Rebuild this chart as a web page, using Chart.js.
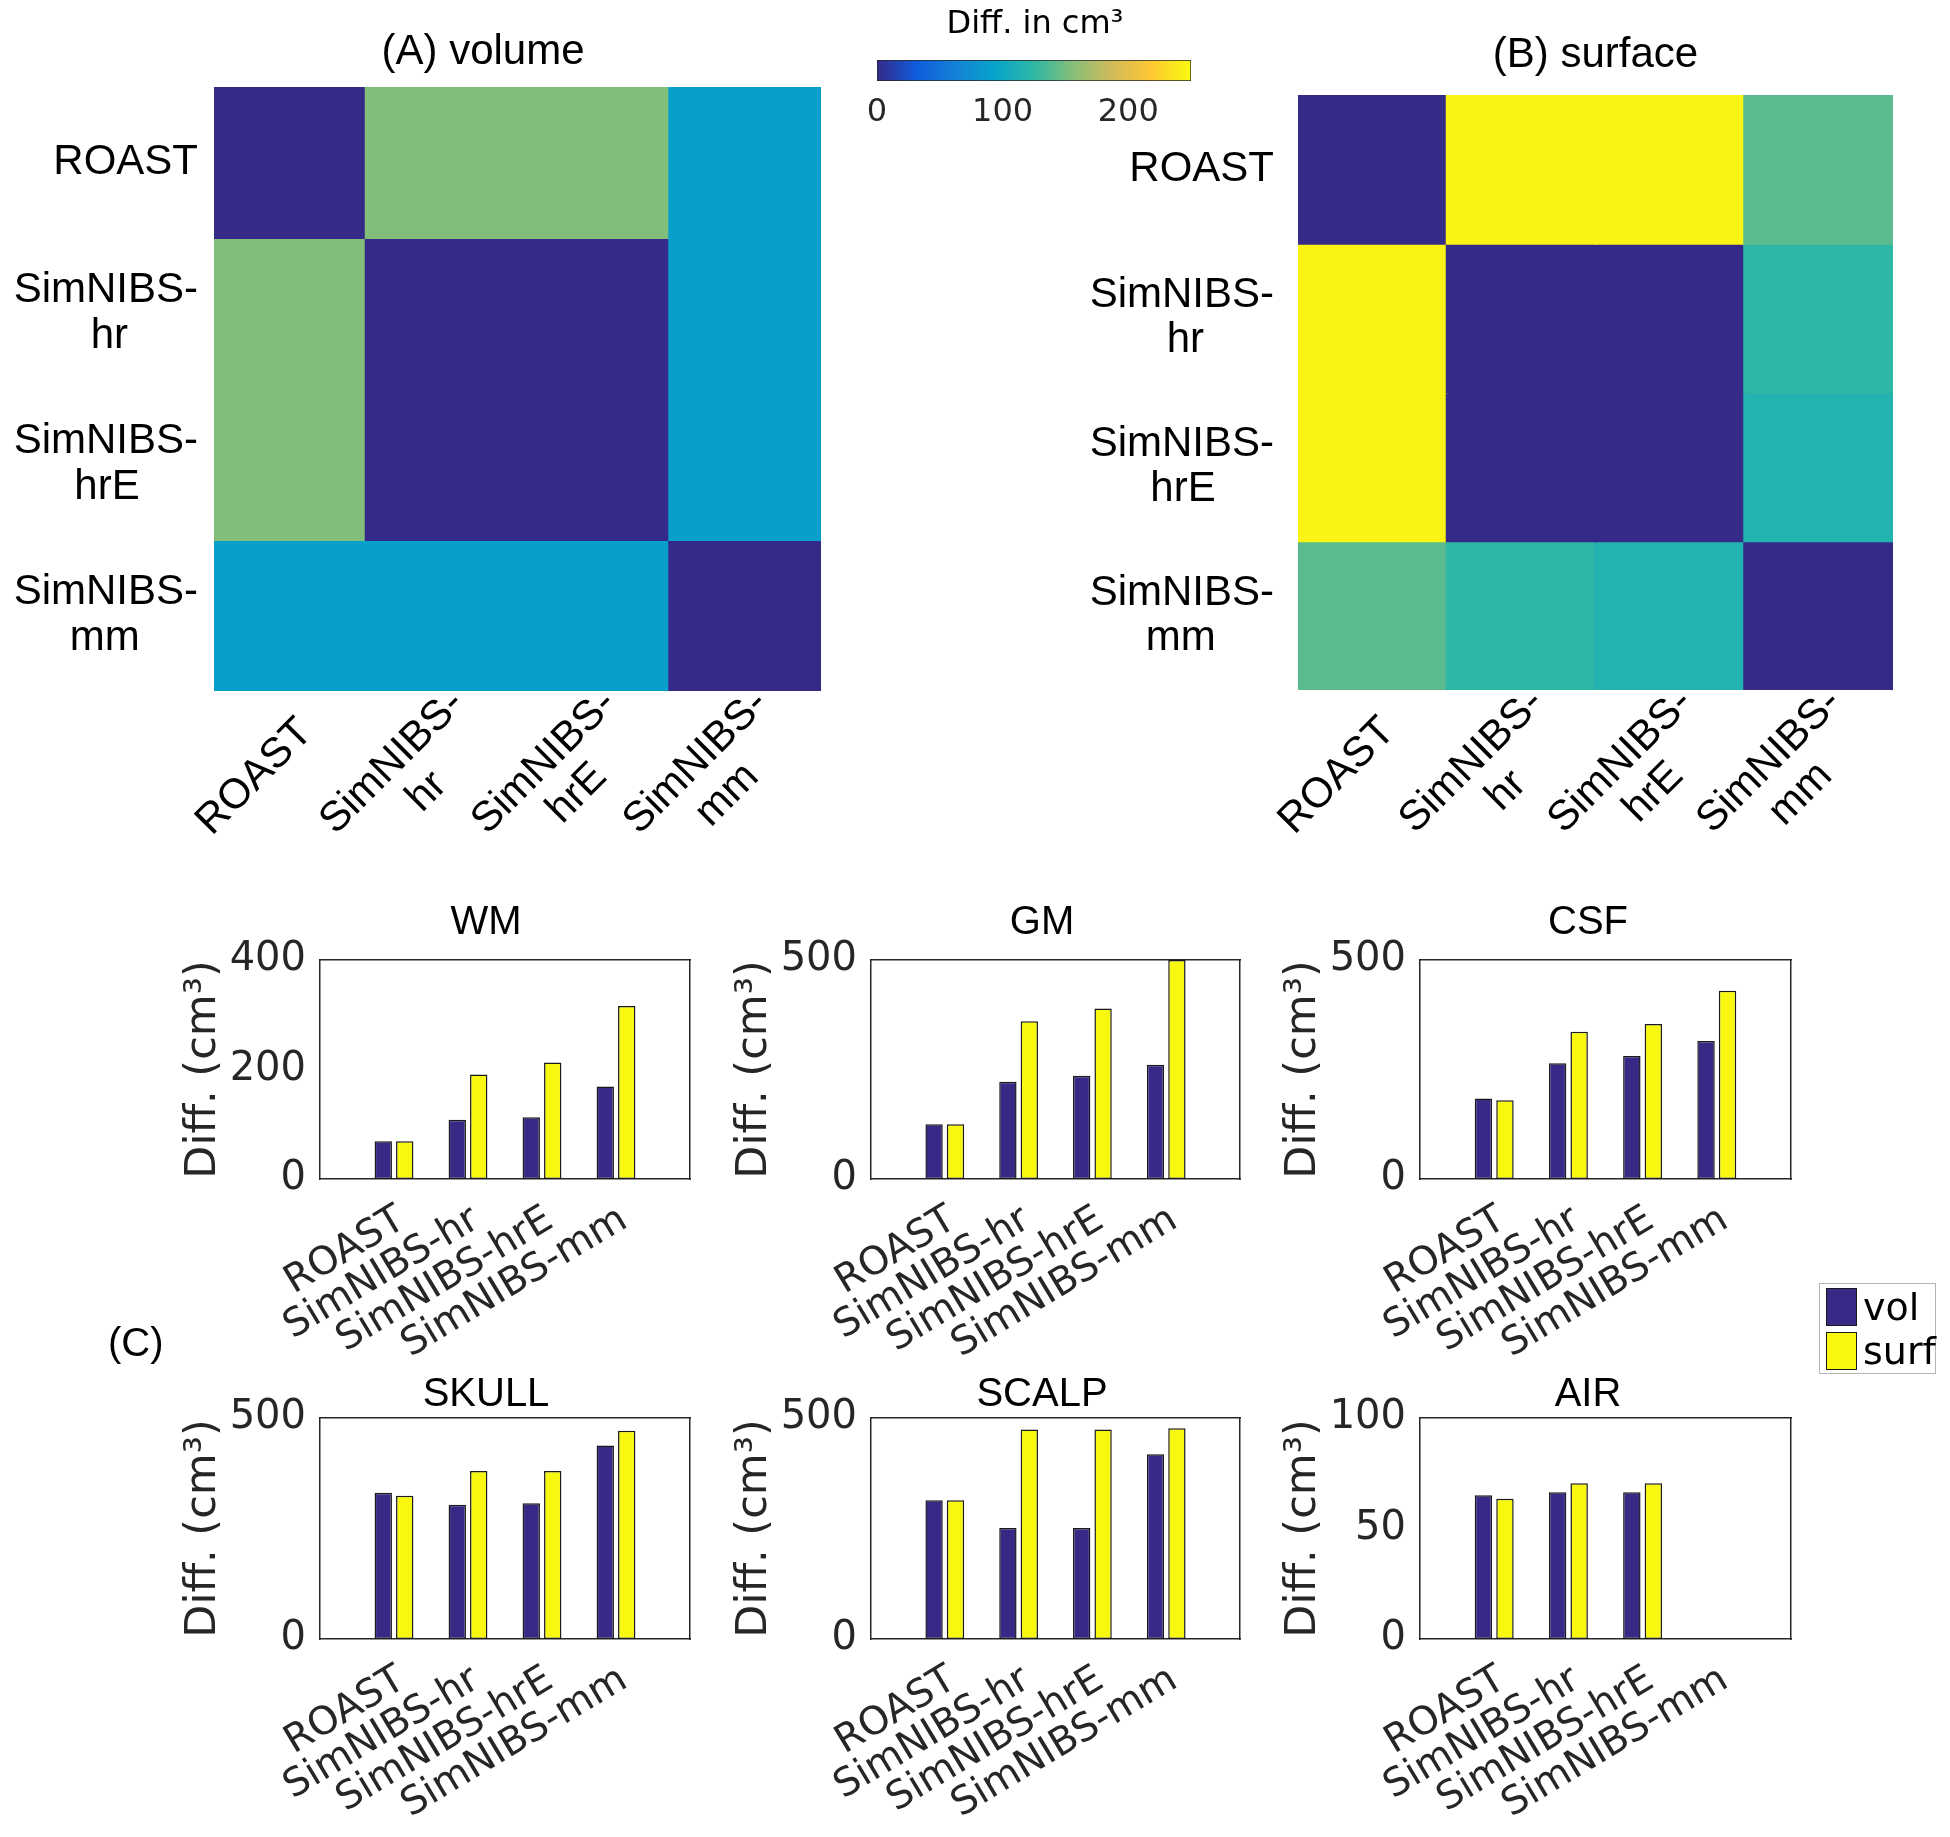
<!DOCTYPE html>
<html>
<head>
<meta charset="utf-8">
<script src="https://cdn.jsdelivr.net/npm/chart.js@4.4.1/dist/chart.umd.min.js"></script>
<style>
	html, body { margin: 0; padding: 0; background: #fff; }
	body { width: 1950px; height: 1837px; position: relative; overflow: hidden; }
	.box { position: absolute; }
	.box canvas { display: block; }
	#legend {
		position: absolute; left: 1819px; top: 1283px; width: 115px; height: 89px;
		border: 1px solid #b4b4b4; background: #fff;
		font: 38px "DejaVu Sans"; color: #000;
	}
	#legend .item { position: absolute; left: 6px; height: 40px; display: flex; align-items: center; }
	#legend .patch { width: 29px; height: 36px; border: 1.5px solid #1a1a1a; margin-right: 6px; }
	#panelC { position: absolute; left: 108px; top: 1320px; font: 40px "Liberation Sans"; color: #000; }
</style>
</head>
<body>
<div class="box" style="left:0px;top:0px;width:966px;height:860px"><canvas id="heatA"></canvas></div>
<div class="box" style="left:1060px;top:0px;width:890px;height:860px"><canvas id="heatB"></canvas></div>
<div class="box" style="left:800px;top:0px;width:470px;height:131px"><canvas id="cbar"></canvas></div>
<div class="box" style="left:150px;top:870px;width:672px;height:490px"><canvas id="wm"></canvas></div>
<div class="box" style="left:701px;top:870px;width:682px;height:490px"><canvas id="gm"></canvas></div>
<div class="box" style="left:1250px;top:870px;width:676px;height:490px"><canvas id="csf"></canvas></div>
<div class="box" style="left:150px;top:1340px;width:672px;height:497px"><canvas id="skull"></canvas></div>
<div class="box" style="left:701px;top:1340px;width:682px;height:497px"><canvas id="scalp"></canvas></div>
<div class="box" style="left:1250px;top:1340px;width:676px;height:497px"><canvas id="air"></canvas></div>
<div id="panelC">(C)</div>
<div id="legend"></div>
<script>
// pipelines compared in every panel
const methods = ['ROAST', 'SimNIBS-hr', 'SimNIBS-hrE', 'SimNIBS-mm'];
const methodLines = [['ROAST'], ['SimNIBS-', 'hr'], ['SimNIBS-', 'hrE'], ['SimNIBS-', 'mm']];

// (A) / (B) pairwise differences, cm^3
const volumeDiff = [
	[0, 154, 154, 90],
	[154, 0, 0, 90],
	[154, 0, 0, 90],
	[90, 90, 90, 0]
];
const surfaceDiff = [
	[0, 245, 245, 140],
	[245, 0, 0, 125],
	[245, 0, 0, 116],
	[140, 125, 116, 0]
];
const colorRange = [0, 250];
const colorTicks = [0, 100, 200];

// (C) per tissue differences, cm^3
const wmVol = [69, 108, 113, 169];
const wmSurf = [69, 191, 213, 316];
const gmVol = [125, 222, 236, 261];
const gmSurf = [125, 360, 389, 500];
const csfVol = [184, 264, 281, 315];
const csfSurf = [180, 336, 354, 430];
const skullVol = [331, 304, 307, 438];
const skullSurf = [324, 380, 380, 471];
const scalpVol = [314, 251, 251, 418];
const scalpSurf = [314, 474, 474, 477];
const airVol = [65, 66.4, 66.4, null];
const airSurf = [63.5, 70.5, 70.5, null];
const wmTicks = [0, 200, 400];
const bigTicks = [0, 500];
const airTicks = [0, 50, 100];

const volColor = '#372a86';
const surfColor = '#f7f70f';
const edgeColor = '#1a1a1a';
const axisColor = '#262626';
const parulaStops = ['#352a87', '#0f5cdd', '#1481d6', '#06a4ca', '#2eb7a4', '#87bf77', '#d1bb59', '#fec832', '#f9fb0e'];

Chart.defaults.font.family = 'Liberation Sans';
Chart.defaults.color = '#000';
Chart.defaults.animation = false;
Chart.defaults.plugins.legend.display = false;
Chart.defaults.plugins.tooltip.enabled = false;

function hexRgb(h) {
	return [1, 3, 5].map(i => parseInt(h.slice(i, i + 2), 16));
}

function parula(v) {
	let t = (v - colorRange[0]) / (colorRange[1] - colorRange[0]);
	t = Math.min(1, Math.max(0, t)) * (parulaStops.length - 1);
	const i = Math.min(Math.floor(t), parulaStops.length - 2);
	const f = t - i;
	const a = hexRgb(parulaStops[i]), b = hexRgb(parulaStops[i + 1]);
	const c = a.map((x, k) => Math.round(x + (b[k] - x) * f));
	return `rgb(${c[0]},${c[1]},${c[2]})`;
}

// MATLAB centres the short line under the long one; canvas labels are right aligned,
// so pad the short line with trailing spaces
const measureCtx = document.createElement('canvas').getContext('2d');
function centeredLines(lines, font) {
	measureCtx.font = font;
	const widths = lines.map(l => measureCtx.measureText(l).width);
	const widest = Math.max(...widths);
	const space = measureCtx.measureText(' ').width;
	return lines.map((l, i) => l + ' '.repeat(Math.round((widest - widths[i]) / 2 / space)));
}

function spacer(width) {
	return {
		position: 'right', display: true,
		grid: { display: false }, ticks: { display: false }, border: { display: false },
		afterFit: s => { s.width = width; }
	};
}

function heatmap(id, values, title, o) {
	const labelFont = { family: 'Liberation Sans', size: 42, lineHeight: 1.08 };
	const fontStr = '42px "Liberation Sans"';
	return new Chart(document.getElementById(id), {
		type: 'bar',
		data: {
			labels: methods,
			datasets: methods.map((name, r) => ({
				label: name,
				data: methods.map(() => [r, r + 1]),
				backgroundColor: values[r].map(parula),
				borderWidth: 0,
				inflateAmount: 1, // overlap neighbours so no light seams show
				grouped: false,
				barPercentage: 1,
				categoryPercentage: 1
			}))
		},
		options: {
			responsive: true,
			maintainAspectRatio: false,
			events: [],
			plugins: {
				title: {
					display: true, text: title, fullSize: o.titleFull,
					font: { size: 42, weight: 'normal', lineHeight: 1 },
					padding: { top: o.titleTop, bottom: o.titleBottom }
				}
			},
			scales: {
				x: {
					grid: { display: false, drawTicks: false }, border: { display: false },
					ticks: {
						autoSkip: false, minRotation: 45, maxRotation: 45,
						padding: -10, labelOffset: 16, color: '#000',
						// single line labels sit lower, like a centred two line block
						font: c => ({ ...labelFont, lineHeight: methodLines[c.index].length === 1 ? 3.03 : 1.08 }),
						callback: (v, i) => centeredLines(methodLines[i], fontStr)
					},
					afterFit: s => { s.height = o.xH; }
				},
				y: {
					type: 'linear', min: 0, max: methods.length, reverse: true,
					afterBuildTicks: s => { s.ticks = methods.map((_, i) => ({ value: i + 0.5 })); },
					grid: { display: false, drawTicks: false }, border: { display: false },
					ticks: {
						crossAlign: 'near', padding: o.yPad, font: labelFont, color: '#000',
						callback: (v, i) => centeredLines(methodLines[i], fontStr)
					},
					afterFit: s => { s.width = o.yW; }
				},
				y2: spacer(o.rightW)
			}
		}
	});
}

heatmap('heatA', volumeDiff, '(A) volume',
	{ titleFull: true, titleTop: 31, titleBottom: 14, xH: 169, yW: 214, rightW: 145, yPad: 16 });
heatmap('heatB', surfaceDiff, '(B) surface',
	{ titleFull: false, titleTop: 34, titleBottom: 19, xH: 170, yW: 238, rightW: 57, yPad: 24 });

// colour bar
new Chart(document.getElementById('cbar'), {
	type: 'bar',
	data: {
		labels: [''],
		datasets: [{
			data: [colorRange],
			backgroundColor: c => {
				const { ctx, chartArea } = c.chart;
				if (!chartArea) return null;
				const g = ctx.createLinearGradient(chartArea.left, 0, chartArea.right, 0);
				parulaStops.forEach((col, i) => g.addColorStop(i / (parulaStops.length - 1), col));
				return g;
			},
			borderColor: axisColor, borderWidth: 1, borderSkipped: false,
			barPercentage: 1, categoryPercentage: 1
		}]
	},
	options: {
		indexAxis: 'y',
		responsive: true,
		maintainAspectRatio: false,
		events: [],
		plugins: {
			title: {
				display: true, text: 'Diff. in cm³',
				font: { family: 'DejaVu Sans', size: 32, weight: 'normal', lineHeight: 1 },
				padding: { top: 9, bottom: 19 }
			}
		},
		scales: {
			x: {
				type: 'linear', min: colorRange[0], max: colorRange[1],
				afterBuildTicks: s => { s.ticks = colorTicks.map(v => ({ value: v })); },
				grid: { display: false, drawTicks: false }, border: { display: false },
				ticks: { padding: 12, color: axisColor, font: { family: 'DejaVu Sans', size: 32 } },
				afterFit: s => { s.height = 50; }
			},
			y: {
				grid: { display: false }, border: { display: false }, ticks: { display: false },
				afterFit: s => { s.width = 77; }
			},
			y2: spacer(79)
		}
	}
});

// (C) bar panels
function barPanel(id, title, vol, surf, yTicks, o) {
	const blank = [''];
	return new Chart(document.getElementById(id), {
		type: 'bar',
		data: {
			labels: [...blank, ...methods, ...blank],
			datasets: [
				{ label: 'vol', data: [null, ...vol, null], backgroundColor: volColor },
				{ label: 'surf', data: [null, ...surf, null], backgroundColor: surfColor }
			]
		},
		options: {
			responsive: true,
			maintainAspectRatio: false,
			events: [],
			datasets: {
				bar: {
					borderColor: edgeColor, borderWidth: 1.5, borderSkipped: false,
					categoryPercentage: 0.58, barPercentage: 0.81
				}
			},
			plugins: {
				title: {
					display: true, text: title,
					font: { size: 40, weight: 'normal', lineHeight: 1 },
					padding: { top: o.titleTop, bottom: o.titleBottom }
				}
			},
			scales: {
				x: {
					offset: false,
					grid: { display: false, drawTicks: false },
					border: { color: axisColor, width: 1.5 },
					ticks: {
						autoSkip: false, minRotation: 31, maxRotation: 31, padding: 18, labelOffset: 8,
						font: { family: 'DejaVu Sans', size: 39 }, color: axisColor
					},
					afterFit: s => { s.height = o.xH; }
				},
				x2: {
					position: 'top', type: 'category',
					grid: { display: false, drawTicks: false }, ticks: { display: false },
					border: { color: axisColor, width: 1.5 },
					afterFit: s => { s.height = 0; }
				},
				y: {
					min: yTicks[0], max: yTicks[yTicks.length - 1],
					afterBuildTicks: s => { s.ticks = yTicks.map(v => ({ value: v })); },
					grid: { display: false, drawTicks: false },
					border: { color: axisColor, width: 1.5 },
					ticks: { padding: 14, font: { family: 'DejaVu Sans', size: 40 }, color: axisColor },
					title: {
						display: true, text: 'Diff. (cm³)', color: axisColor,
						font: { family: 'DejaVu Sans', size: 43, lineHeight: 1.2 },
						padding: { top: 28, bottom: 0 }
					},
					afterFit: s => { s.width = 170; }
				},
				y2: {
					position: 'right', display: true,
					grid: { display: false }, ticks: { display: false },
					border: { color: axisColor, width: 1.5 },
					afterFit: s => { s.width = o.rightW; }
				}
			}
		}
	});
}

const row1 = { titleTop: 33, titleBottom: 17, xH: 181 };
const row2 = { titleTop: 35, titleBottom: 3, xH: 198 };

barPanel('wm', 'WM', wmVol, wmSurf, wmTicks, { ...row1, rightW: 132 });
barPanel('gm', 'GM', gmVol, gmSurf, bigTicks, { ...row1, rightW: 143 });
const csfChart = barPanel('csf', 'CSF', csfVol, csfSurf, bigTicks, { ...row1, rightW: 135 });
barPanel('skull', 'SKULL', skullVol, skullSurf, bigTicks, { ...row2, rightW: 132 });
barPanel('scalp', 'SCALP', scalpVol, scalpSurf, bigTicks, { ...row2, rightW: 143 });
barPanel('air', 'AIR', airVol, airSurf, airTicks, { ...row2, rightW: 135 });

// shared legend, built from the chart's own legend items
const legendBox = document.getElementById('legend');
Chart.defaults.plugins.legend.labels.generateLabels(csfChart).forEach((item, i) => {
	const row = document.createElement('div');
	row.className = 'item';
	row.style.top = (3 + i * 44) + 'px';
	const patch = document.createElement('span');
	patch.className = 'patch';
	patch.style.background = item.fillStyle;
	const text = document.createElement('span');
	text.textContent = item.text;
	row.append(patch, text);
	legendBox.append(row);
});
</script>
</body>
</html>
